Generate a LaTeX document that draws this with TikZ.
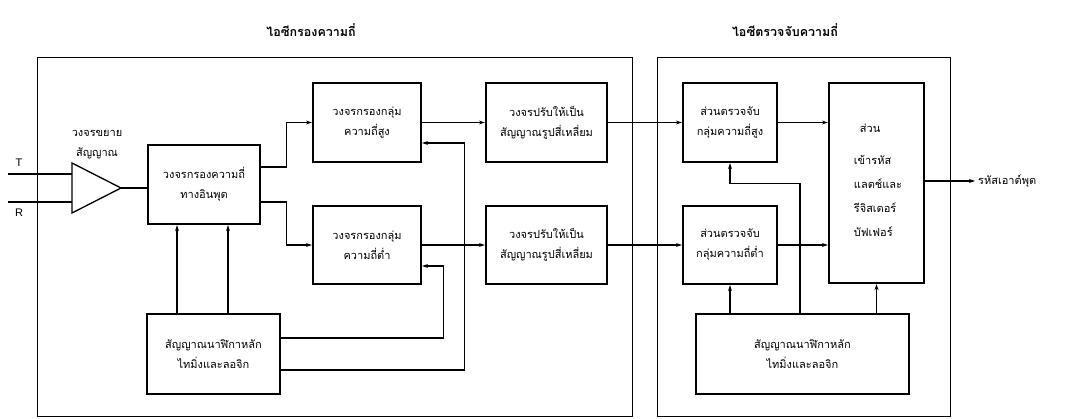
\documentclass[tikz,border=0pt]{standalone}
\usepackage{fontspec}
\newfontfamily\thai[Script=Thai]{Loma}
\setmainfont{Liberation Sans}
\usetikzlibrary{arrows.meta}
\begin{document}
\begin{tikzpicture}[x=1pt,y=-1pt,
  txt/.style={font=\thai\fontsize{11}{20}\selectfont, align=center, inner sep=0pt},
  blk/.style={txt, draw, line width=2.2pt},
  outer/.style={draw, line width=0.9pt, inner sep=0pt},
  ln/.style={line width=1.1pt},
  arr/.style={ln, -{Stealth[length=6pt,width=4pt]}},
  title/.style={font=\thai\bfseries\fontsize{12.5}{15}\selectfont, inner sep=0pt}]
\useasboundingbox (0,0) rectangle (1065,419);
\fill[white] (0,0) rectangle (1065,419);
% outer boxes
\node[outer, minimum width=595pt, minimum height=359pt] (icL) at (334.5,236.5) {};
\node[outer, minimum width=293pt, minimum height=359pt] (icR) at (803.5,236.5) {};
\node[title] (tL) at (311,30) {ไอซีกรองความถี่};
\node[title] (tR) at (785,30) {ไอซีตรวจจับความถี่};
% amplifier
\coordinate (ampA) at (72,163);
\coordinate (ampB) at (72,213);
\coordinate (amptip) at (121,188);
\draw[line width=1.3pt, line join=miter] (ampA) -- (amptip) -- (ampB) -- cycle;
\node[txt] (ampl) at (97,145) {วงจรขยาย\\สัญญาณ};
\coordinate (tin) at (8,174);
\coordinate (rin) at (8,202);
\coordinate (tamp) at (72,174);
\coordinate (ramp) at (72,202);
\draw[ln] (tin) -- (tamp);
\draw[ln] (rin) -- (ramp);
\node[font=\fontsize{11}{13}\selectfont, inner sep=0pt] (tlab) at (19,163) {T};
\node[font=\fontsize{11}{13}\selectfont, inner sep=0pt] (rlab) at (19,213) {R};
% blocks
\node[blk, minimum width=112pt, minimum height=79pt] (inf) at (204,184.5) {วงจรกรองความถี่\\ทางอินพุต};
\node[blk, minimum width=108pt, minimum height=79pt] (hf) at (367,122.5) {วงจรกรองกลุ่ม\\ความถี่สูง};
\node[blk, minimum width=108pt, minimum height=78pt] (lf) at (367,245) {วงจรกรองกลุ่ม\\ความถี่ต่ำ};
\node[blk, minimum width=121pt, minimum height=79pt] (sqh) at (546.5,122.5) {วงจรปรับให้เป็น\\สัญญาณรูปสี่เหลี่ยม};
\node[blk, minimum width=121pt, minimum height=78pt] (sql) at (546.5,245) {วงจรปรับให้เป็น\\สัญญาณรูปสี่เหลี่ยม};
\node[blk, minimum width=94pt, minimum height=79pt] (dh) at (730,122.5) {ส่วนตรวจจับ\\กลุ่มความถี่สูง};
\node[blk, minimum width=94pt, minimum height=78pt] (dl) at (730,245) {ส่วนตรวจจับ\\กลุ่มความถี่ต่ำ};
\node[blk, minimum width=95pt, minimum height=200pt] (enc) at (876.5,183) {};
\node[txt, align=left, font=\thai\fontsize{11}{24}\selectfont] (enct) at (878,180) {\hspace*{6pt}ส่วน\\[8pt]เข้ารหัส\\แลตช์และ\\รีจิสเตอร์\\บัฟเฟอร์};
\node[blk, minimum width=133pt, minimum height=80pt] (tl) at (213.5,354) {สัญญาณนาฬิกาหลัก\\ไทมิ่งและลอจิก};
\node[blk, minimum width=213pt, minimum height=80pt] (tr) at (802.5,354) {สัญญาณนาฬิกาหลัก\\ไทมิ่งและลอจิก};
\node[txt, anchor=west, inner sep=3pt] (out) at (975,181) {รหัสเอาต์พุต};
% connectors
\draw[ln] (amptip) -- (amptip -| inf.west);
\draw[arr] ([yshift=17.5pt]inf.east) -- ++(25,0) |- (hf.west);
\draw[arr] ([yshift=-17.5pt]inf.east) -- ++(25,0) |- (lf.west);
\draw[arr] ([xshift=-36.5pt]tl.north) -- ([xshift=-36.5pt]tl.north |- inf.south);
\draw[arr] ([xshift=14.5pt]tl.north) -- ([xshift=14.5pt]tl.north |- inf.south);
\draw[arr] ([yshift=16pt]tl.east) -- ++(162,0) |- ([yshift=-21pt]lf.east);
\draw[arr] ([yshift=-16pt]tl.east) -- ++(183,0) |- ([yshift=-20.5pt]hf.east);
\draw[arr] (hf.east) -- (sqh.west);
\draw[arr] (lf.east) -- (sql.west);
\draw[arr] (sqh.east) -- (dh.west);
\draw[arr] (sql.east) -- (dl.west);
\draw[arr] (dh.east) -- (dh.east -| enc.west);
\draw[arr] (dl.east) -- (dl.east -| enc.west);
\draw[arr] ([xshift=-2.5pt]tr.north) -- ++(0,-129) -| (dh.south);
\draw[arr] (tr.north -| dl.south) -- (dl.south);
\draw[arr] (tr.north -| enc.south) -- (enc.south);
\draw[arr] (enc.east |- out.west) -- (out.west);
\end{tikzpicture}
\end{document}
